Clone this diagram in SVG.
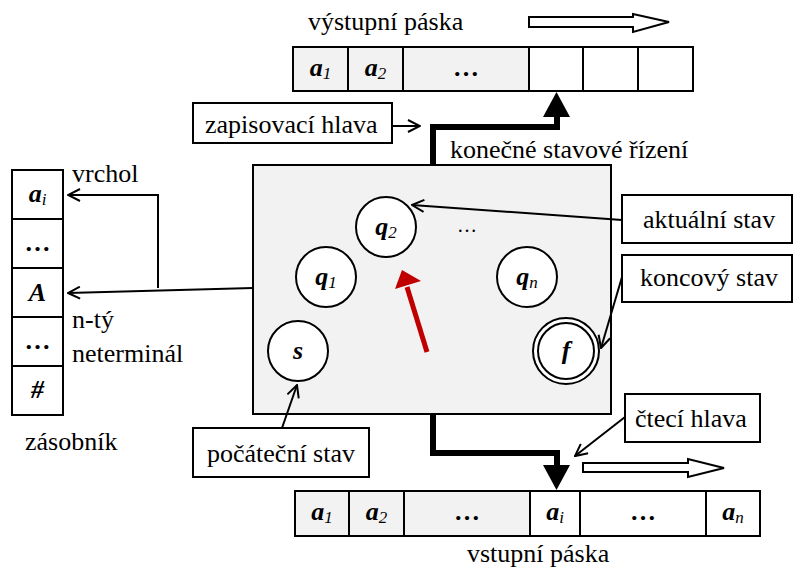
<svg xmlns="http://www.w3.org/2000/svg" width="794" height="574" viewBox="0 0 794 574">
<defs>
<style>
text{font-family:"Liberation Serif","Times New Roman",serif;fill:#000}
.lbl{font-size:26px}
.sym{font-size:26px;font-weight:bold;font-style:italic}
.sub{font-size:17px;font-weight:normal;font-style:italic}
.cell{stroke:#000;stroke-width:2}
.g{fill:#f2f2f2}
.w{fill:#fff}
.box{fill:#fff;stroke:#000;stroke-width:2}
.st{fill:#fff;stroke:#000;stroke-width:2}
.thin{fill:none;stroke:#000;stroke-width:2}
.thick{fill:none;stroke:#000;stroke-width:6}
.hollow{fill:#fff;stroke:#000;stroke-width:2}
</style>
<marker id="open" markerWidth="14" markerHeight="14" refX="13" refY="7" orient="auto" markerUnits="userSpaceOnUse">
<path d="M1,1 L13,7 L1,13" fill="none" stroke="#000" stroke-width="2"/>
</marker>
</defs>
<rect width="794" height="574" fill="#fff"/>

<g id="output-tape">
<text class="lbl" x="308" y="30">výstupní páska</text>
<rect class="cell g" x="293" y="47" width="55" height="44"/>
<rect class="cell g" x="348" y="47" width="55" height="44"/>
<rect class="cell g" x="403" y="47" width="126" height="44"/>
<rect class="cell w" x="529" y="47" width="54" height="44"/>
<rect class="cell w" x="583" y="47" width="55" height="44"/>
<rect class="cell w" x="638" y="47" width="55" height="44"/>
<text class="sym" x="320.5" y="76" text-anchor="middle">a<tspan class="sub" dy="3">1</tspan></text>
<text class="sym" x="375.5" y="76" text-anchor="middle">a<tspan class="sub" dy="3">2</tspan></text>
<text class="lbl" x="466" y="76" text-anchor="middle" font-weight="bold">…</text>
<polygon class="hollow" points="529,17 633,17 633,14 669,22 633,32 633,27 529,27"/>
</g>

<g id="input-tape">
<rect class="cell g" x="295" y="491" width="54" height="45"/>
<rect class="cell g" x="349" y="491" width="55" height="45"/>
<rect class="cell g" x="404" y="491" width="126" height="45"/>
<rect class="cell w" x="530" y="491" width="50" height="45"/>
<rect class="cell w" x="580" y="491" width="126" height="45"/>
<rect class="cell w" x="706" y="491" width="54" height="45"/>
<text class="sym" x="322" y="520" text-anchor="middle">a<tspan class="sub" dy="3">1</tspan></text>
<text class="sym" x="376.5" y="520" text-anchor="middle">a<tspan class="sub" dy="3">2</tspan></text>
<text class="lbl" x="467" y="520" text-anchor="middle" font-weight="bold">…</text>
<text class="sym" x="555" y="520" text-anchor="middle">a<tspan class="sub" dy="3">i</tspan></text>
<text class="lbl" x="643" y="520" text-anchor="middle" font-weight="bold">…</text>
<text class="sym" x="733" y="520" text-anchor="middle">a<tspan class="sub" dy="3">n</tspan></text>
<text class="lbl" x="467" y="562">vstupní páska</text>
<polygon class="hollow" points="583,463 688,463 688,459 724,468 688,477 688,472 583,472"/>
</g>

<g id="stack">
<rect class="cell w" x="12" y="170" width="51" height="49"/>
<rect class="cell w" x="12" y="219" width="51" height="49"/>
<rect class="cell w" x="12" y="268" width="51" height="49"/>
<rect class="cell w" x="12" y="317" width="51" height="49"/>
<rect class="cell w" x="12" y="366" width="51" height="49"/>
<text class="sym" x="37.5" y="202" text-anchor="middle">a<tspan class="sub" dy="3">i</tspan></text>
<text class="lbl" x="37.5" y="251" text-anchor="middle" font-weight="bold">…</text>
<text class="sym" x="37.5" y="301" text-anchor="middle">A</text>
<text class="lbl" x="37.5" y="349" text-anchor="middle" font-weight="bold">…</text>
<text class="sym" x="37.5" y="398" text-anchor="middle">#</text>
<text class="lbl" x="25" y="450">zásobník</text>
<text class="lbl" x="72" y="182">vrchol</text>
<text class="lbl" x="72" y="328">n-tý</text>
<text class="lbl" x="72" y="362">neterminál</text>
</g>

<g id="control">
<rect x="253" y="165" width="358" height="249" fill="#f2f2f2" stroke="#000" stroke-width="2"/>
<text class="lbl" x="450" y="158">konečné stavové řízení</text>
<text x="467" y="232" text-anchor="middle" font-size="20" style="font-family:'Liberation Serif',serif">…</text>
</g>

<g id="q2"><circle class="st" cx="386" cy="227" r="30"/><text class="sym" x="386" y="235" text-anchor="middle">q<tspan class="sub" dy="3">2</tspan></text></g>
<g id="q1"><circle class="st" cx="326" cy="277" r="30"/><text class="sym" x="326" y="285" text-anchor="middle">q<tspan class="sub" dy="3">1</tspan></text></g>
<g id="qn"><circle class="st" cx="527" cy="277" r="30"/><text class="sym" x="527" y="285" text-anchor="middle">q<tspan class="sub" dy="3">n</tspan></text></g>
<g id="s"><circle class="st" cx="298" cy="351" r="30"/><text class="sym" x="298" y="359" text-anchor="middle">s</text></g>
<g id="f"><circle class="st" cx="566" cy="351" r="33"/><circle class="st" cx="566" cy="351" r="28"/><text class="sym" x="566" y="359" text-anchor="middle">f</text></g>

<g id="lbl-write"><rect class="box" x="193" y="103" width="199" height="40"/><text class="lbl" x="205" y="133">zapisovací hlava</text></g>
<g id="lbl-current"><rect class="box" x="622" y="195" width="170" height="48"/><text class="lbl" x="643" y="228">aktuální stav</text></g>
<g id="lbl-final"><rect class="box" x="622" y="255" width="170" height="47"/><text class="lbl" x="640" y="286">koncový stav</text></g>
<g id="lbl-read"><rect class="box" x="625" y="394" width="135" height="48"/><text class="lbl" x="635" y="427">čtecí hlava</text></g>
<g id="lbl-start"><rect class="box" x="193" y="428" width="176" height="49"/><text class="lbl" x="207" y="462">počáteční stav</text></g>

<g id="connectors">
<polyline class="thick" points="433,165 433,127 557,127 557,116"/>
<polygon points="543,117 570,117 556.5,92" fill="#000"/>
<polyline class="thick" points="433,414 433,453 557,453 557,466"/>
<polygon points="543,465 570,465 556.5,490" fill="#000"/>
<line class="thin" x1="392" y1="126" x2="420" y2="126" marker-end="url(#open)"/>
<line class="thin" x1="622" y1="220" x2="412" y2="205" marker-end="url(#open)"/>
<line class="thin" x1="622" y1="277" x2="601" y2="348" marker-end="url(#open)"/>
<line class="thin" x1="625" y1="417" x2="575" y2="456" marker-end="url(#open)"/>
<line class="thin" x1="282" y1="428" x2="297" y2="385" marker-end="url(#open)"/>
<line class="thin" x1="253" y1="288" x2="68" y2="293" marker-end="url(#open)"/>
<polyline class="thin" points="158,288 158,195 68,195" marker-end="url(#open)"/>
<line x1="427" y1="352" x2="407" y2="287" stroke="#c00000" stroke-width="5"/>
<polygon points="395,289 421,281 402,270" fill="#c00000"/>
</g>
</svg>
